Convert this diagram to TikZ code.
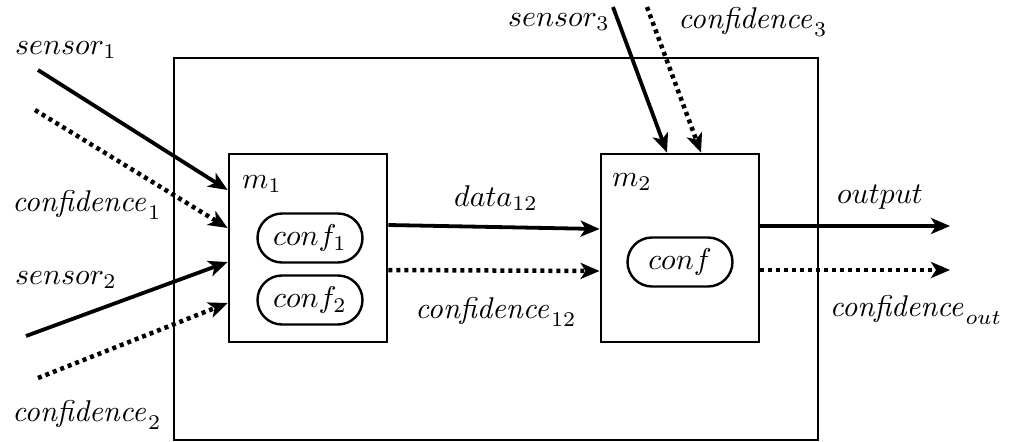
\documentclass[tikz,border=0pt]{standalone}
\usetikzlibrary{arrows.meta,shapes.misc}
\newcommand{\mylbl}[1]{\scalebox{3.0}{$#1$}}
\begin{document}
\begin{tikzpicture}[x=1pt,y=-1pt,
  every node/.style={inner sep=0pt},
  box/.style={draw, line width=2.8pt, minimum width=158pt, minimum height=188pt},
  outerbox/.style={draw, line width=2.6pt, minimum width=644pt, minimum height=382pt},
  pill/.style={draw, line width=2.4pt, rounded rectangle, minimum width=105pt, minimum height=49pt},
  solidarrow/.style={line width=3.8pt, -{Stealth[length=19pt,width=16pt,inset=5pt]}},
  dotarrow/.style={line width=4.5pt, dash pattern=on 4pt off 4pt, -{Stealth[length=19pt,width=16pt,inset=5pt]}},
  lbl/.style={}]
\useasboundingbox (0,0) rectangle (1010,442);
\node[outerbox] (outer) at (496,249) {};
\node[box,fill=white] (m1) at (308,248) {};
\node[box,fill=white] (m2) at (680,248) {};
\node[pill] (conf1) at (310,238) {\mylbl{conf_1}};
\node[pill] (conf2) at (310,300) {\mylbl{conf_2}};
\node[pill] (conf) at (680,262) {\mylbl{conf}};
\node[lbl] (m1lbl) at (262,184) {\mylbl{m_1}};
\node[lbl] (m2lbl) at (632,182) {\mylbl{m_2}};

\coordinate (s1start) at (38,70);
\coordinate (c1start) at (35,110);
\coordinate (s2start) at (26,336);
\coordinate (c2start) at (38,378);
\coordinate (s3start) at (613,7);
\coordinate (c3start) at (647,7);
\coordinate (outend) at (950,226);
\coordinate (coutend) at (950,270);

\draw[solidarrow] (s1start) -- ([yshift=58pt]m1.west);
\draw[dotarrow] (c1start) -- ([yshift=20pt]m1.west);
\draw[solidarrow] (s2start) -- ([yshift=-14pt]m1.west);
\draw[dotarrow] (c2start) -- ([yshift=-55pt]m1.west);
\draw[solidarrow] ([yshift=23pt]m1.east) -- ([yshift=19pt]m2.west);
\draw[dotarrow] ([yshift=-22pt]m1.east) -- ([yshift=-23pt]m2.west);
\draw[solidarrow] (s3start) -- ([xshift=-13pt]m2.north);
\draw[dotarrow] (c3start) -- ([xshift=21pt]m2.north);
\draw[solidarrow] ([yshift=22pt]m2.east) -- (outend);
\draw[dotarrow] ([yshift=-22pt]m2.east) -- (coutend);

\node[lbl] (ls1) at (66,50) {\mylbl{sensor_1}};
\node[lbl] (lc1) at (87,205) {\mylbl{\mathit{confidence}_1}};
\node[lbl] (ls2) at (66,280) {\mylbl{sensor_2}};
\node[lbl] (lc2) at (87,415) {\mylbl{\mathit{confidence}_2}};
\node[lbl] (ld12) at (496,198) {\mylbl{data_{12}}};
\node[lbl] (lc12) at (496,312) {\mylbl{\mathit{confidence}_{12}}};
\node[lbl] (ls3) at (559,22) {\mylbl{sensor_3}};
\node[lbl] (lc3) at (753,22) {\mylbl{\mathit{confidence}_3}};
\node[lbl] (lout) at (880,197) {\mylbl{output}};
\node[lbl] (lcout) at (916,310) {\mylbl{\mathit{confidence}_{out}}};
\end{tikzpicture}
\end{document}
